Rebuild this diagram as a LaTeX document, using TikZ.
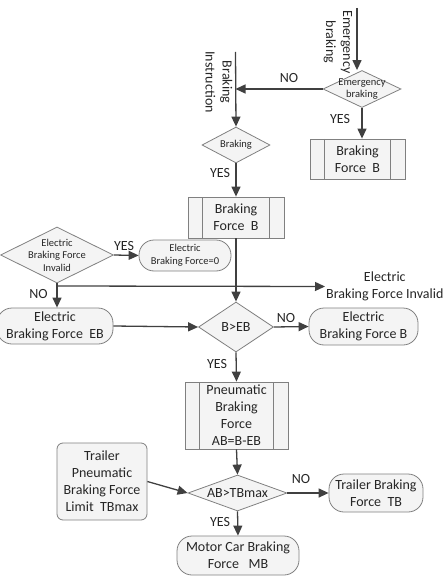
\documentclass[tikz,border=0pt]{standalone}
\usepackage{fontspec}
\setmainfont{Carlito}
\usepackage{tikz,xcolor}
\usetikzlibrary{shapes.geometric,arrows.meta,calc}
\definecolor{lineg}{HTML}{404040}
\definecolor{boxg}{HTML}{808080}
\definecolor{fillg}{HTML}{F4F4F4}

\begin{document}
\begin{tikzpicture}[x=1pt,y=-1pt,
  big/.style={font=\fontsize{14}{17}\selectfont, text=black!85},
  small/.style={font=\fontsize{10.5}{12.5}\selectfont, text=black!85},
  flow/.style={draw=lineg, line width=1.3pt, -{Triangle[length=10pt,width=9pt]}},
  proc/.style={draw=boxg, fill=fillg, line width=0.8pt, inner sep=0pt, big, align=center,
    path picture={\draw[boxg, line width=0.8pt]
      ([xshift=14.5pt]path picture bounding box.north west) -- ([xshift=14.5pt]path picture bounding box.south west)
      ([xshift=-14.5pt]path picture bounding box.north east) -- ([xshift=-14.5pt]path picture bounding box.south east);}},
  term/.style={draw=boxg, fill=fillg, line width=0.8pt, rounded corners=15pt, inner sep=0pt, align=center},
  dec/.style={diamond, draw=boxg, fill=fillg, line width=0.8pt, inner sep=0pt},
  ans/.style={big, inner sep=0pt}]
\useasboundingbox (0,0) rectangle (444,580);
% inputs
\coordinate (emgin) at (357,8);
\coordinate (bin) at (235.5,52);
\node[big, rotate=-90, align=center] (emgtxt) at (338,42) {Emergency\\braking};
\node[big, rotate=-90, align=center] (brktxt) at (219,82) {Braking\\Instruction};
% top part
\node[dec, minimum width=78pt, minimum height=37pt,
  label={[small,align=center]center:Emergency\\braking}] (emg) at (362,89) {};
\node[proc, minimum width=95pt, minimum height=40pt] (bfr) at (357.5,159) {Braking\\Force~~B};
\node[dec, minimum width=68pt, minimum height=36pt,
  label={[small]center:Braking}] (brk) at (236,145) {};
\node[proc, minimum width=96pt, minimum height=41pt] (bfc) at (236,217.5) {Braking\\Force~~B};
% electric braking force
\node[dec, minimum width=113pt, minimum height=56pt,
  label={[small,align=center]center:Electric\\Braking Force\\Invalid}] (inv) at (57,255) {};
\node[term, small, minimum width=92pt, minimum height=31pt] (zero) at (185,255.5) {Electric\\Braking Force=0};
\coordinate (split) at (57,286);
\node[big, anchor=west, align=center, inner sep=0pt] (einv) at (326,286.5) {Electric\\Braking Force Invalid};
\node[term, big, minimum width=116pt, minimum height=36pt] (ebox) at (55,326) {Electric\\Braking Force~~EB};
\node[dec, minimum width=75pt, minimum height=50pt,
  label={[big]center:B>EB}] (cmp1) at (236,327) {};
\node[term, big, minimum width=109pt, minimum height=37pt] (ebf) at (363.5,326.5) {Electric\\Braking Force B};
% pneumatic part
\node[proc, minimum width=103pt, minimum height=67pt] (pab) at (236.5,415.5) {Pneumatic\\Braking\\Force\\AB=B-EB};
\node[dec, minimum width=99pt, minimum height=36pt,
  label={[big]center:AB>TBmax}] (cmp2) at (237.5,493) {};
\node[draw=boxg, fill=fillg, line width=0.8pt, rounded corners=6pt, big, align=center,
  minimum width=90pt, minimum height=77pt] (tlim) at (102,481.5) {Trailer\\Pneumatic\\Braking Force\\Limit~~TBmax};
\node[term, big, minimum width=94pt, minimum height=38pt] (tbox) at (376,493) {Trailer Braking\\Force~~TB};
\node[term, big, minimum width=122pt, minimum height=39pt] (mbox) at (238,555.5) {Motor Car Braking\\Force~~~MB};
% connectors
\draw[flow] (emgin) -- (emgin |- emg.north);
\draw[flow] (emg.west) -- (emg.west -| bin);
\draw[flow] (bin) -- (brk.north);
\draw[flow] (emg.south) -- (emg.south |- bfr.north);
\draw[flow] (brk.south) -- (bfc.north);
\draw[flow] (bfc.south) -- (cmp1.north);
\draw[flow] (inv.east) -- (zero.west);
\draw[draw=lineg, line width=1.3pt] (inv.south) -- (split);
\draw[flow] (split) -- (split |- ebox.north);
\draw[flow] (split) -- ([xshift=-1pt]einv.west);
\draw[flow] (ebox.east) -- (cmp1.west);
\draw[flow] (cmp1.east) -- (ebf.west);
\draw[flow] (cmp1.south) -- (pab.north);
\draw[flow] (pab.south) -- (cmp2.north);
\draw[flow] (tlim.east) -- (cmp2.west);
\draw[flow] (cmp2.east) -- (tbox.west);
\draw[flow] (cmp2.south) -- (mbox.north);
% YES / NO
\node[ans] (no1) at (289,78) {NO};
\node[ans] (yes1) at (340,119) {YES};
\node[ans] (yes2) at (220,173) {YES};
\node[ans] (yes3) at (124,246) {YES};
\node[ans] (no2) at (38.5,294) {NO};
\node[ans] (no3) at (286,318) {NO};
\node[ans] (yes4) at (217,364) {YES};
\node[ans] (no4) at (301,479) {NO};
\node[ans] (yes5) at (220,522) {YES};
\end{tikzpicture}
\end{document}
